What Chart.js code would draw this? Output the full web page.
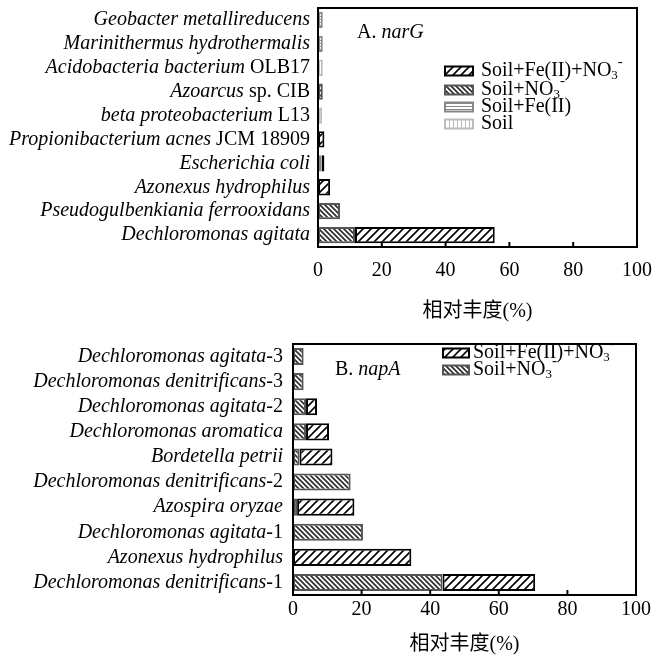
<!DOCTYPE html>
<html>
<head>
<meta charset="utf-8">
<script src="https://cdn.jsdelivr.net/npm/chart.js@4.4.1/dist/chart.umd.min.js"></script>
<style>
  body { margin: 0; background: #fff; }
  canvas { display: block; }
</style>
</head>
<body>
<canvas id="narG" width="664" height="330"></canvas>
<canvas id="napA" width="664" height="330"></canvas>
<script>
// A. narG
const narGLabels = [
  "Geobacter metallireducens",
  "Marinithermus hydrothermalis",
  "Acidobacteria bacterium OLB17",
  "Azoarcus sp. CIB",
  "beta proteobacterium L13",
  "Propionibacterium acnes JCM 18909",
  "Escherichia coli",
  "Azonexus hydrophilus",
  "Pseudogulbenkiania ferrooxidans",
  "Dechloromonas agitata",
];
// part of each label set in roman type (strain names etc.)
const narGTails = ["", "", " OLB17", " sp. CIB", " L13", " JCM 18909", "", "", "", ""];
const narGSoil = [null, null, 1.5, null, 1.3, null, null, null, null, null];
const narGFe = [1.5, 1.5, null, null, null, null, 1.1, null, null, null];
const narGNO3 = [null, null, null, 1.5, null, null, null, null, 6.9, 11.6];
const narGFeNO3 = [null, null, null, null, null, 2.0, 0.9, 3.8, null, 43.8];

// B. napA
const napALabels = [
  "Dechloromonas agitata-3",
  "Dechloromonas denitrificans-3",
  "Dechloromonas agitata-2",
  "Dechloromonas aromatica",
  "Bordetella petrii",
  "Dechloromonas denitrificans-2",
  "Azospira oryzae",
  "Dechloromonas agitata-1",
  "Azonexus hydrophilus",
  "Dechloromonas denitrificans-1",
];
const napATails = ["-3", "-3", "-2", "", "", "-2", "", "-1", "", "-1"];
const napANO3 = [3.1, 3.1, 3.8, 3.8, 1.9, 16.8, 1.2, 20.4, null, 43.6];
const napAFeNO3 = [null, null, 3.2, 6.7, 9.6, null, 16.7, null, 34.5, 27.0];

const xTitle = "相对丰度(%)";

const SERIF = "'Liberation Serif', 'Times New Roman', serif";
const ROMAN = "20px " + SERIF;
const ITALIC = "italic 20px " + SERIF;

function makePattern(kind, color, size, lw) {
  const c = document.createElement("canvas");
  c.width = size;
  c.height = size;
  const g = c.getContext("2d");
  g.fillStyle = "#fff";
  g.fillRect(0, 0, size, size);
  g.strokeStyle = color;
  g.lineWidth = lw;
  g.beginPath();
  if (kind === "/") {
    g.moveTo(-1, size + 1); g.lineTo(size + 1, -1);
    g.moveTo(-1, 1); g.lineTo(1, -1);
    g.moveTo(size - 1, size + 1); g.lineTo(size + 1, size - 1);
  } else if (kind === "\\") {
    g.moveTo(-1, -1); g.lineTo(size + 1, size + 1);
    g.moveTo(size - 1, -1); g.lineTo(size + 1, 1);
    g.moveTo(-1, size - 1); g.lineTo(1, size + 1);
  } else if (kind === "-") {
    g.moveTo(0, size / 2); g.lineTo(size, size / 2);
  } else {
    g.moveTo(1.5, 0); g.lineTo(1.5, size);
  }
  g.stroke();
  return g.createPattern(c, "repeat");
}

const styles = {
  soil: { fill: makePattern("|", "#bbb", 4, 1), border: "#bbb" },
  fe: { fill: makePattern("-", "#888", 3, 1), border: "#888" },
  no3: { fill: makePattern("\\", "#333", 5, 1.8), border: "#555" },
  feno3: { fill: makePattern("/", "#000", 8, 1.6), border: "#000" },
};

function series(label, data, st) {
  return {
    label,
    data,
    backgroundColor: st.fill,
    borderColor: st.border,
    borderWidth: 2,
    borderSkipped: false,
    barPercentage: 0.68,
    categoryPercentage: 1,
  };
}

// draws frame, inward ticks, mixed italic labels, panel tag and legend
const framePlugin = {
  id: "frame",
  afterDatasetsDraw(chart, args, opts) {
    const { ctx, chartArea: a, scales } = chart;
    const x = scales.x, y = scales.y;
    ctx.save();
    ctx.strokeStyle = "#000";
    ctx.lineWidth = 2;
    ctx.strokeRect(a.left, a.top, a.right - a.left, a.bottom - a.top);

    ctx.beginPath();
    x.ticks.forEach((t) => {
      const px = x.getPixelForValue(t.value);
      ctx.moveTo(px, a.bottom);
      ctx.lineTo(px, a.bottom - 5);
    });
    ctx.stroke();

    ctx.fillStyle = "#000";
    ctx.textBaseline = "middle";
    ctx.textAlign = "left";
    chart.data.labels.forEach((lab, i) => {
      const tail = opts.tails[i];
      const name = lab.slice(0, lab.length - tail.length);
      const py = y.getPixelForValue(i);
      ctx.font = ROMAN;
      const tw = ctx.measureText(tail).width;
      ctx.font = ITALIC;
      const nw = ctx.measureText(name).width;
      ctx.fillText(name, opts.labelRight - tw - nw, py);
      ctx.font = ROMAN;
      ctx.fillText(tail, opts.labelRight - tw, py);
    });

    const tag = opts.tag;
    ctx.font = ROMAN;
    ctx.fillText(tag.roman, tag.x, tag.y);
    const rw = ctx.measureText(tag.roman).width;
    ctx.font = ITALIC;
    ctx.fillText(tag.italic, tag.x + rw, tag.y);

    const lg = opts.legend;
    const sets = chart.data.datasets.slice().reverse();
    sets.forEach((ds, i) => {
      const cy = lg.ys[i];
      ctx.fillStyle = ds.backgroundColor;
      ctx.fillRect(lg.x, cy - lg.h / 2, lg.w, lg.h);
      ctx.strokeStyle = ds.borderColor;
      ctx.lineWidth = 2;
      ctx.strokeRect(lg.x, cy - lg.h / 2, lg.w, lg.h);
      ctx.fillStyle = "#000";
      let tx = lg.textX;
      let main = ds.label;
      const ion = main.endsWith("NO3-");
      if (ion) main = main.slice(0, -2);
      ctx.font = ROMAN;
      ctx.fillText(main, tx, cy);
      tx += ctx.measureText(main).width;
      if (ion) {
        ctx.font = "13px " + SERIF;
        ctx.fillText("3", tx, cy + 5);
        tx += ctx.measureText("3").width;
        ctx.font = "15px " + SERIF;
        ctx.fillText("-", tx, cy - 9);
      }
    });
    ctx.restore();
  },
};

function makeChart(id, labels, datasets, pad, tickPad, titlePad, opts) {
  return new Chart(document.getElementById(id), {
    type: "bar",
    data: { labels, datasets },
    options: {
      indexAxis: "y",
      responsive: false,
      animation: false,
      layout: { padding: pad },
      plugins: {
        legend: { display: false },
        tooltip: { enabled: false },
        frame: opts,
      },
      scales: {
        x: {
          stacked: true,
          min: 0,
          max: 100,
          grid: { display: false, drawTicks: false },
          border: { display: true, color: "#000", width: 2 },
          ticks: { stepSize: 20, color: "#000", padding: tickPad, font: { family: SERIF, size: 20 } },
          title: {
            display: true,
            text: xTitle,
            color: "#000",
            padding: { top: titlePad, bottom: 0 },
            font: { family: "'Liberation Serif', 'Noto Sans CJK SC', serif", size: 20 },
          },
        },
        y: {
          stacked: true,
          grid: { display: false, drawTicks: false },
          border: { display: true, color: "#000", width: 2 },
          ticks: { display: false },
        },
      },
    },
    plugins: [framePlugin],
  });
}

makeChart(
  "narG",
  narGLabels,
  [
    series("Soil", narGSoil, styles.soil),
    series("Soil+Fe(II)", narGFe, styles.fe),
    series("Soil+NO3-", narGNO3, styles.no3),
    series("Soil+Fe(II)+NO3-", narGFeNO3, styles.feno3),
  ],
  { left: 318, right: 17, top: 8, bottom: 6 },
  12, 5,
  {
    tails: narGTails,
    labelRight: 310,
    tag: { x: 357, y: 33, roman: "A. ", italic: "narG" },
    legend: { x: 445, w: 28, h: 9, textX: 481, ys: [71, 90, 107, 124] },
  }
);

makeChart(
  "napA",
  napALabels,
  [
    series("Soil+NO3-", napANO3, styles.no3),
    series("Soil+Fe(II)+NO3-", napAFeNO3, styles.feno3),
  ],
  { left: 293, right: 28, top: 14, bottom: 3 },
  3, 8,
  {
    tails: napATails,
    labelRight: 283,
    tag: { x: 335, y: 40, roman: "B. ", italic: "napA" },
    legend: { x: 443, w: 26, h: 9, textX: 473, ys: [23, 40] },
  }
);
</script>
</body>
</html>
